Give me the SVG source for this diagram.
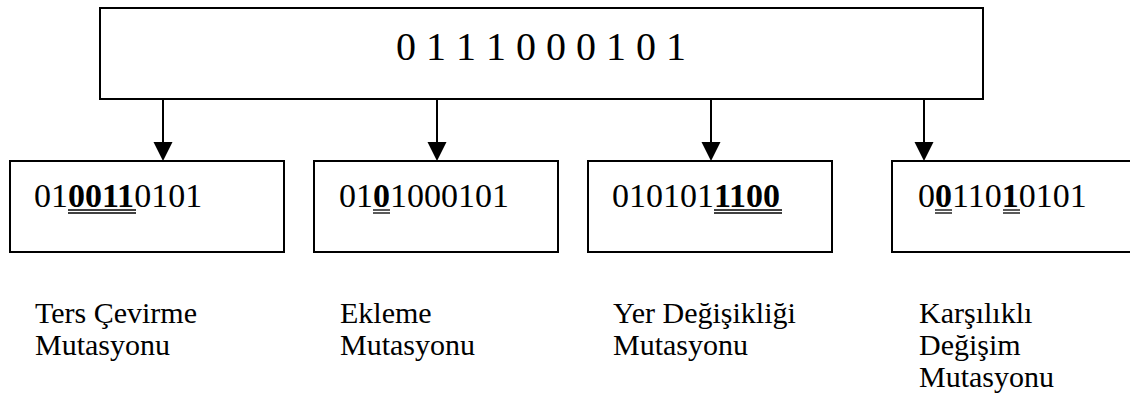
<svg xmlns="http://www.w3.org/2000/svg" width="1130" height="401" viewBox="0 0 1130 401">
  <style>
    .box { fill: #ffffff; stroke: #000000; stroke-width: 2; }
    .wire { stroke: #000000; stroke-width: 2; fill: none; }
    .head { fill: #000000; }
    text { font-family: 'Liberation Serif', 'Times New Roman', Times, 'DejaVu Serif', serif; fill: #000000; }
    .seq { font-size: 34px; }
    .b { font-weight: bold; }
    .root { font-size: 40px; }
    .label { font-size: 30px; }
    .ul { stroke: #000000; stroke-width: 1.3; }
  </style>
  <defs>
    <polygon id="arrowhead" class="head" points="-9.5,142 9.5,142 0,161"/>
  </defs>
  <rect width="1130" height="401" fill="#ffffff"/>

  <!-- original chromosome -->
  <g id="node-original">
    <rect class="box" x="100" y="8" width="883" height="91"/>
    <text class="root" x="396" y="60" font-family="Liberation Serif, serif" xml:space="preserve">0 1 1 1 0 0 0 1 0 1</text>
  </g>

  <!-- arrows from the original to each mutation -->
  <g id="connectors">
    <line class="wire" x1="163" y1="99" x2="163" y2="145"/>
    <use href="#arrowhead" x="163"/>
    <line class="wire" x1="437" y1="99" x2="437" y2="145"/>
    <use href="#arrowhead" x="437"/>
    <line class="wire" x1="711" y1="99" x2="711" y2="145"/>
    <use href="#arrowhead" x="711"/>
    <line class="wire" x1="924" y1="99" x2="924" y2="145"/>
    <use href="#arrowhead" x="924"/>
  </g>

  <!-- inversion -->
  <g id="node-inversion">
    <rect class="box" x="10" y="161" width="274" height="91"/>
    <text class="seq" x="34" y="207">01<tspan class="b">0011</tspan>0101</text>
    <line class="ul" x1="68" y1="210" x2="136" y2="210"/>
    <line class="ul" x1="68" y1="213" x2="136" y2="213"/>
    <text class="label" x="35" y="323">Ters Çevirme</text>
    <text class="label" x="35" y="355">Mutasyonu</text>
  </g>

  <!-- insertion -->
  <g id="node-insertion">
    <rect class="box" x="314" y="161" width="244" height="91"/>
    <text class="seq" x="339" y="207">01<tspan class="b">0</tspan>1000101</text>
    <line class="ul" x1="373" y1="210" x2="390" y2="210"/>
    <line class="ul" x1="373" y1="213" x2="390" y2="213"/>
    <text class="label" x="340" y="323">Ekleme</text>
    <text class="label" x="340" y="355">Mutasyonu</text>
  </g>

  <!-- translocation -->
  <g id="node-translocation">
    <rect class="box" x="588" y="161" width="244" height="91"/>
    <text class="seq" x="612" y="207">010101<tspan class="b">1100</tspan></text>
    <line class="ul" x1="714" y1="210" x2="782" y2="210"/>
    <line class="ul" x1="714" y1="213" x2="782" y2="213"/>
    <text class="label" x="613" y="323">Yer Değişikliği</text>
    <text class="label" x="613" y="355">Mutasyonu</text>
  </g>

  <!-- reciprocal exchange -->
  <g id="node-exchange">
    <rect class="box" x="892" y="161" width="250" height="91"/>
    <text class="seq" x="918" y="207">0<tspan class="b">0</tspan>110<tspan class="b">1</tspan>0101</text>
    <line class="ul" x1="935" y1="210" x2="952" y2="210"/>
    <line class="ul" x1="935" y1="213" x2="952" y2="213"/>
    <line class="ul" x1="1003" y1="210" x2="1020" y2="210"/>
    <line class="ul" x1="1003" y1="213" x2="1020" y2="213"/>
    <text class="label" x="919" y="323">Karşılıklı</text>
    <text class="label" x="919" y="355">Değişim</text>
    <text class="label" x="919" y="387">Mutasyonu</text>
  </g>
</svg>
